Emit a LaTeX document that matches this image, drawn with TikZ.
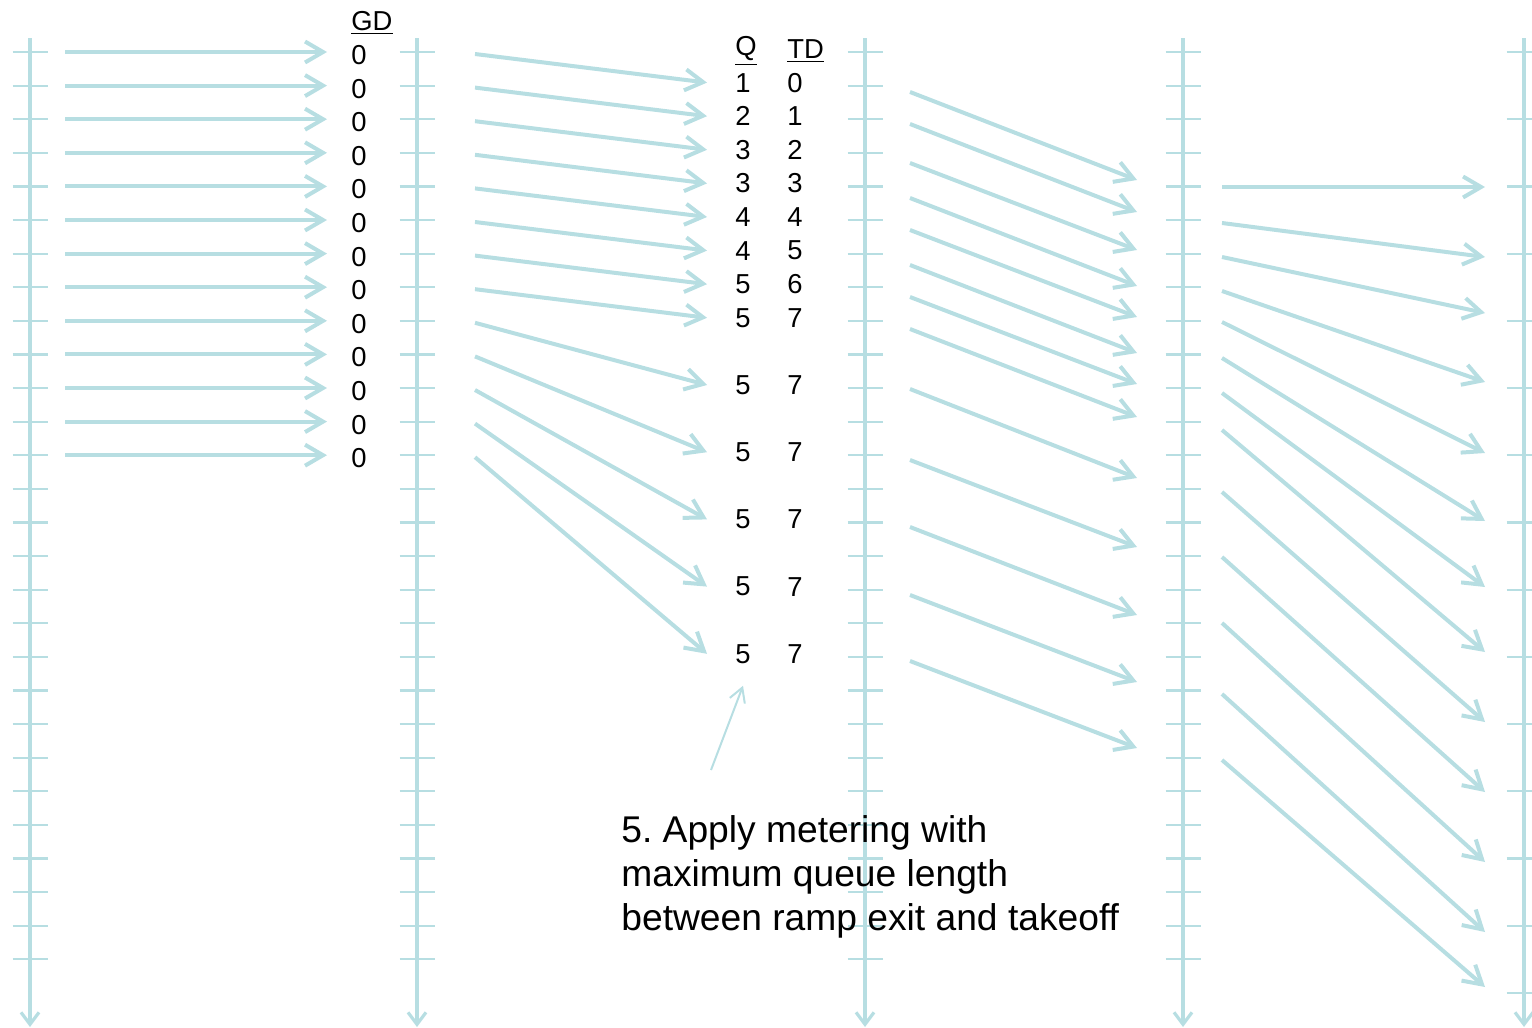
\documentclass[tikz,border=0pt]{standalone}
\usepackage{fontspec}
\setmainfont{Liberation Sans}
\usetikzlibrary{positioning,arrows.meta,calc}
\definecolor{timeblue}{RGB}{183,222,226}

\begin{document}
\begin{tikzpicture}[x=0.5pt,y=-0.5pt,
    axis/.style={draw=timeblue,line width=1.6pt,-{Straight Barb[length=6pt,width=9pt]}},
    tickline/.style={draw=timeblue,line width=1.1pt},
    flow/.style={draw=timeblue,line width=2pt,-{Straight Barb[length=9pt,width=10.5pt]}},
    note/.style={draw=timeblue,line width=1pt,-{Straight Barb[length=7pt,width=8pt]}},
    num/.style={anchor=west,inner sep=0pt,font=\fontsize{13.7}{16}\selectfont}]
    \useasboundingbox (0,0) rectangle (1532,1028);

    % Time lines
    \foreach \x in {30,417,865,1183} {
        \draw[axis] (\x,38) -- (\x,1027);
        \foreach \k in {0,...,27}
            \draw[tickline] (\x-17.5,{52+33.6*\k}) -- (\x+17.5,{52+33.6*\k});
    }
    \draw[axis] (1524,38) -- (1524,1027);
    \foreach \k in {0,2,...,28}
        \draw[tickline] (1506.5,{52+33.6*\k}) -- (1541.5,{52+33.6*\k});

    % GD column
    \node[num] (gd) at (351,23) {\underline{GD}};
    \foreach \k in {0,...,12} {
        \node[num] (g\k) at (351,{55+33.6*\k}) {0};
        \coordinate (a\k) at (65,{52+33.6*\k});
        \draw[flow] (a\k) -- ($(a\k -| g\k.west)+(-24,0)$);
    }

    % Q and TD columns
    \node[num] (qh) at (735,51) {\underline{Q}};
    \node[num] (tdh) at (787,51) {\underline{TD}};
    \foreach \q/\t/\k [count=\i] in {1/0/1,2/1/2,3/2/3,3/3/4,4/4/5,4/5/6,5/6/7,5/7/8,
                                     5/7/10,5/7/12,5/7/14,5/7/16,5/7/18} {
        \node[num] (q\i) at (735,{52+33.6*\k-3}) {\q};
        \node[num] (td\i) at (787,{52+33.6*\k-3}) {\t};
    }
    \foreach \i in {1,...,13} {
        \coordinate (b\i) at (475,{52+33.6*(\i-1)+2});
        \draw[flow] (b\i) -- ([xshift=-14pt]q\i.west);
    }

    % Ramp exit to takeoff
    \foreach \s/\e [count=\i] in {92/180,124/212,163/250,198/286,230/317,265/353,297/384,
                                 329/417,389/478,460/547,527/615,595/682,661/748} {
        \coordinate (c\i) at (910,\s);
        \coordinate (d\i) at (1137,\e);
        \draw[flow] (c\i) -- (d\i);
    }
    \foreach \s/\e [count=\i] in {187/187,223/257,257/313,291/382,322/453,358/521,393/587,
                                 430/652,492/722,557/792,623/862,694/932,760/987} {
        \coordinate (e\i) at (1222,\s);
        \coordinate (f\i) at (1485,\e);
        \draw[flow] (e\i) -- (f\i);
    }

    % Note
    \node[anchor=north west,inner sep=0pt,align=left,font=\fontsize{18.6}{22}\selectfont]
        (step5) at (621,815) {5.\ Apply metering with\\maximum queue length\\between ramp exit and takeoff};
    \coordinate (n0) at (711,770);
    \draw[note] (n0) -- ([yshift=-11pt]q13.south);
\end{tikzpicture}
\end{document}
